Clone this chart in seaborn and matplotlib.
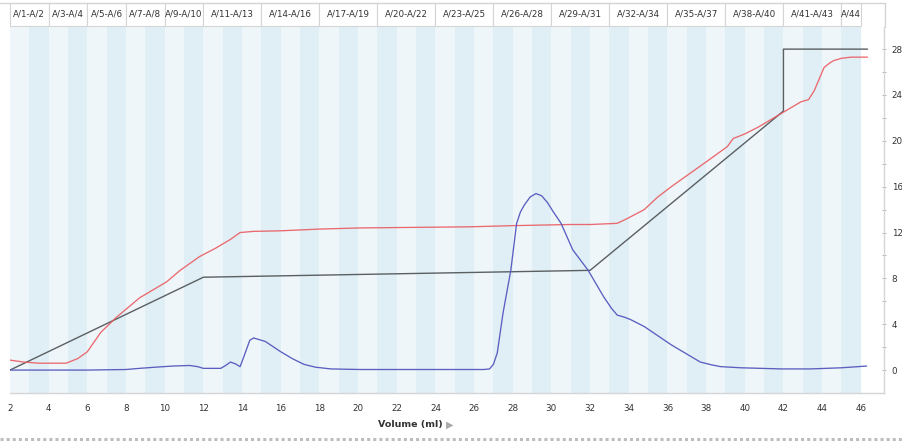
import matplotlib
matplotlib.use("Agg")
import matplotlib.pyplot as plt
import pandas as pd
import seaborn as sns
from matplotlib.patches import Rectangle
from matplotlib.lines import Line2D

# UV trace (blue)
uv_ml = [2.0, 4.0, 6.0, 8.0, 8.7, 9.5, 10.4, 11.3, 11.7, 12.0, 12.9, 13.15, 13.4, 13.65, 13.9,
         14.1, 14.4, 14.6, 15.2, 16.0, 16.6, 17.2, 17.8, 18.6, 20.1, 24.0, 26.5, 26.8, 27.0,
         27.2, 27.5, 27.9, 28.2, 28.4, 28.6, 28.9, 29.2, 29.5, 29.8, 30.1, 30.5, 31.1, 31.9,
         32.7, 33.1, 33.4, 33.8, 34.1, 34.8, 35.5, 36.2, 37.0, 37.7, 38.3, 38.75, 39.8, 41.9,
         43.4, 45.0, 46.3]
uv_val = [0.0, 0.0, 0.0, 0.05, 0.15, 0.25, 0.35, 0.4, 0.3, 0.15, 0.15, 0.4, 0.7, 0.55, 0.3,
          1.2, 2.6, 2.8, 2.5, 1.6, 1.0, 0.5, 0.25, 0.1, 0.05, 0.05, 0.05, 0.1, 0.5,
          1.5, 5.0, 8.7, 12.8, 13.8, 14.4, 15.1, 15.4, 15.2, 14.6, 13.8, 12.8, 10.5, 8.7,
          6.4, 5.4, 4.8, 4.6, 4.4, 3.8, 3.0, 2.2, 1.4, 0.7, 0.45, 0.3, 0.2, 0.1,
          0.1, 0.2, 0.35]

# conductivity trace (red)
cond_ml = [2.0, 2.7, 3.5, 4.9, 5.5, 6.0, 6.7, 7.5, 8.7, 10.1, 10.8, 11.8, 12.6, 13.4, 13.9,
           14.6, 16.0, 18.0, 20.1, 23.0, 25.8, 28.0, 31.0, 32.0, 33.4, 33.9, 34.8, 35.5, 36.2,
           37.2, 38.2, 39.1, 39.4, 40.0, 40.7, 41.4, 42.0, 42.4, 42.9, 43.3, 43.6, 43.9, 44.1,
           44.4, 44.6, 45.0, 45.5, 46.35]
cond_val = [0.87, 0.7, 0.6, 0.6, 1.0, 1.6, 3.3, 4.6, 6.3, 7.7, 8.7, 9.9, 10.6, 11.4, 12.0,
            12.1, 12.15, 12.3, 12.4, 12.45, 12.5, 12.6, 12.7, 12.7, 12.8, 13.2, 14.0, 15.1, 16.0,
            17.2, 18.4, 19.5, 20.2, 20.6, 21.2, 21.9, 22.5, 22.9, 23.4, 23.6, 24.4, 25.6, 26.4,
            26.8, 27.0, 27.2, 27.3, 27.3]

# gradient (grey)
grad_ml = [2.0, 12.0, 32.0, 42.0, 42.0, 46.35]
grad_val = [0.0, 8.1, 8.7, 22.6, 28.0, 28.0]

# fractions
frac_labels = ["A/1-A/2", "A/3-A/4", "A/5-A/6", "A/7-A/8", "A/9-A/10", "A/11-A/13",
               "A/14-A/16", "A/17-A/19", "A/20-A/22", "A/23-A/25", "A/26-A/28", "A/29-A/31",
               "A/32-A/34", "A/35-A/37", "A/38-A/40", "A/41-A/43", "A/44"]
frac_start = [2, 4, 6, 8, 10, 12, 15, 18, 21, 24, 27, 30, 33, 36, 39, 42, 45]
frac_end = frac_start[1:] + [46]

x_ticks = list(range(2, 48))
x_tick_labels = [str(t) if t % 2 == 0 and t <= 46 else "" for t in x_ticks]
y_ticks = [0, 4, 8, 12, 16, 20, 24, 28]
y_minor = [2, 6, 10, 14, 18, 22, 26]

sns.set_style("white")
plt.rcParams["font.family"] = ["DejaVu Sans"]

fig = plt.figure(figsize=(9.03, 4.42), dpi=100)
ax = fig.add_axes([10 / 903, 1 - 393 / 442, (884 - 10) / 903, (393 - 27) / 442])

# alternating fraction bands
for n in range(1, 45):
    ax.axvspan(n + 1, n + 2, color="#eef6fa" if n % 2 else "#e0eff5", lw=0, zorder=0)

grad = pd.DataFrame({"ml": grad_ml, "v": grad_val})
cond = pd.DataFrame({"ml": cond_ml, "v": cond_val})
uv = pd.DataFrame({"ml": uv_ml, "v": uv_val})
sns.lineplot(data=grad, x="ml", y="v", ax=ax, color="#5a5f62", linewidth=1.0,
             estimator=None, sort=False)
sns.lineplot(data=cond, x="ml", y="v", ax=ax, color="#ea5a60", linewidth=0.95,
             estimator=None, sort=False, alpha=0.9)
sns.lineplot(data=uv, x="ml", y="v", ax=ax, color="#5b5ec0", linewidth=0.95,
             estimator=None, sort=False)

ax.set_xlim(2, 47.2)
ax.set_ylim(-2.0, 29.93)
ax.set_xlabel("")
ax.set_ylabel("")

ax.set_xticks(x_ticks)
ax.set_xticklabels(x_tick_labels)
ax.yaxis.tick_right()
ax.set_yticks(y_ticks)
ax.set_yticks(y_minor, minor=True)
ax.tick_params(axis="x", length=3, width=0.6, color="#999999", pad=5,
               labelsize=6.3, labelcolor="#333333", direction="out")
ax.tick_params(axis="y", which="both", length=3, width=0.6, color="#aaaaaa", pad=4,
               labelsize=6.3, labelcolor="#333333", direction="inout")
ax.tick_params(axis="y", which="minor", labelright=False)

for side in ["left", "top"]:
    ax.spines[side].set_visible(False)
for side in ["right", "bottom"]:
    ax.spines[side].set_color("#d5d5d5")
    ax.spines[side].set_linewidth(1.0)

# fraction header
trans = ax.get_xaxis_transform()
for lab, s, e in zip(frac_labels, frac_start, frac_end):
    ax.add_patch(Rectangle((s, 1.003), e - s, 0.063, transform=trans, facecolor="white",
                           edgecolor="#d5d5d5", linewidth=0.8, clip_on=False, zorder=3))
    ax.text((s + e) / 2, 1.035, lab, transform=trans, ha="center", va="center",
            fontsize=6.3, color="#333333", clip_on=False, zorder=4)

top_y = 1 - 3 / 442
fig.add_artist(Line2D([0, 885 / 903], [top_y, top_y], color="#d5d5d5", lw=1.0))
fig.add_artist(Line2D([885 / 903, 885 / 903], [top_y, 1 - 27 / 442], color="#d5d5d5", lw=1.0))

fig.text(443 / 903, 1 - 425 / 442, "Volume (ml)", ha="right", va="center",
         fontsize=6.8, fontweight="bold", color="#333333")
fig.text(446 / 903, 1 - 425 / 442, "\u25b6", ha="left", va="center",
         fontsize=7, color="#aaaaaa")

fig.add_artist(Line2D([0, 1], [1 - 439 / 442, 1 - 439 / 442], color="#bdbdbd", lw=2.2,
                      linestyle=(0, (1, 1))))

fig.savefig("out.png", dpi=100)
